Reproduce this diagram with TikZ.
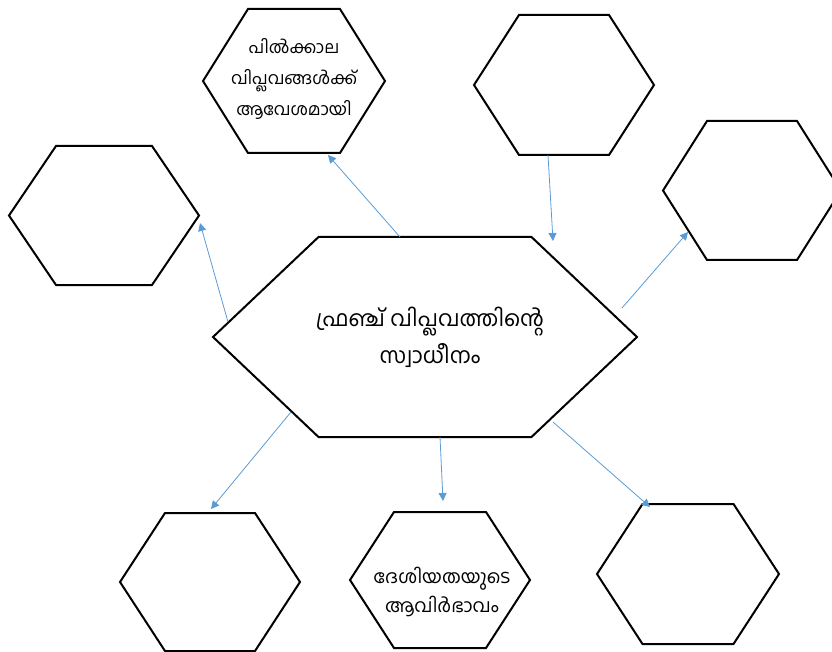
\documentclass[tikz,border=0pt]{standalone}
\usepackage{fontspec}
\newfontfamily\mal[Script=Malayalam]{Hind Kochi}
\usetikzlibrary{arrows.meta}
\definecolor{arrowblue}{HTML}{5B9BD5}
\tikzset{
  hexline/.style={draw=black, line width=2pt, line join=miter},
  conn/.style={draw=arrowblue, line width=0.8pt, -{Triangle[length=8pt,width=8pt]}},
  bigtext/.style={align=center, font=\mal\fontsize{22}{37}\selectfont},
  smalltext/.style={align=center, font=\mal\fontsize{17}{31}\selectfont},
  bmtextstyle/.style={align=center, font=\mal\fontsize{18.5}{29}\selectfont},
}
\newcommand\hexshape[6]{%
  \draw[hexline] (#2-#4,#3) -- (#2-#5,#3-#6) -- (#2+#5,#3-#6) -- (#2+#4,#3) -- (#2+#5,#3+#6) -- (#2-#5,#3+#6) -- cycle;
  \coordinate (#1) at (#2,#3);}
\begin{document}
\begin{tikzpicture}[x=1pt,y=-1pt]
\useasboundingbox (0,0) rectangle (832,652);
\clip (0,0) rectangle (832,652);
% hexagons
\hexshape{C}{425}{337}{212}{106.5}{100}
\hexshape{T}{294}{81}{91}{46}{72}
\hexshape{TR}{564}{85}{90}{45}{70}
\hexshape{L}{104}{215.5}{95}{48}{69.5}
\hexshape{R}{752}{190.5}{89}{45}{69.5}
\hexshape{BL}{210}{582}{90}{45}{69}
\hexshape{BM}{440}{580}{90}{46}{68}
\hexshape{BR}{688}{574}{91}{45.5}{70}
% texts
\node[bigtext] (ctext) at (430,337) {ഫ്രഞ്ച് വിപ്ലവത്തിന്റെ\\സ്വാധീനം};
\node[smalltext] (ttext) at (294,79) {പിൽക്കാല\\വിപ്ലവങ്ങൾക്ക്\\ആവേശമായി};
\node[bmtextstyle] (bmtext) at (442,592) {ദേശിയതയുടെ\\ആവിർഭാവം};
% connector end points
\coordinate (a1s) at (400,237);  \coordinate (a1e) at (328,155);
\coordinate (a2s) at (228,322);  \coordinate (a2e) at (200,223);
\coordinate (a3s) at (548,155);  \coordinate (a3e) at (553,241);
\coordinate (a4s) at (622,308);  \coordinate (a4e) at (688,232);
\coordinate (a5s) at (291,412);  \coordinate (a5e) at (211,509);
\coordinate (a6s) at (440,437);  \coordinate (a6e) at (443,501);
\coordinate (a7s) at (553,422);  \coordinate (a7e) at (650,507);
\draw[conn] (a1s) -- (a1e);
\draw[conn] (a2s) -- (a2e);
\draw[conn] (a3s) -- (a3e);
\draw[conn] (a4s) -- (a4e);
\draw[conn] (a5s) -- (a5e);
\draw[conn] (a6s) -- (a6e);
\draw[conn] (a7s) -- (a7e);
\end{tikzpicture}
\end{document}
